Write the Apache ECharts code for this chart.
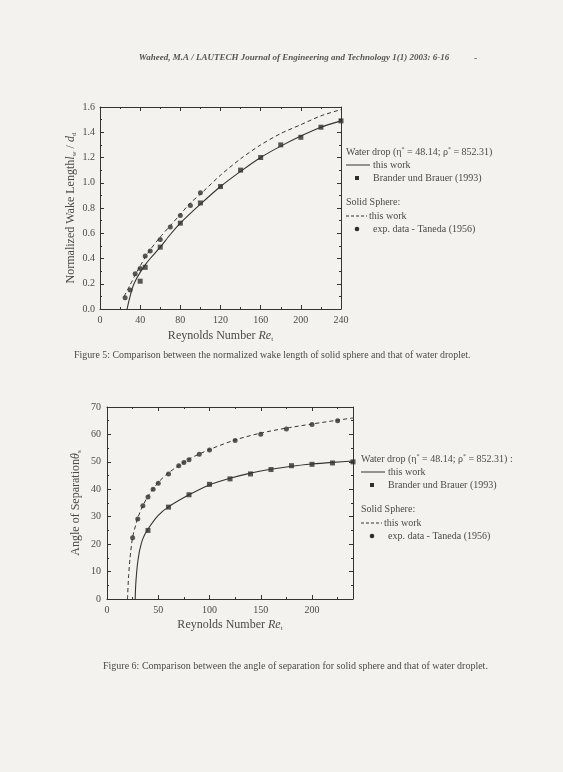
<!DOCTYPE html>
<html>
<head>
<meta charset="utf-8">
<script src="https://cdn.jsdelivr.net/npm/echarts@6/dist/echarts.min.js"></script>
<style>
	html, body { margin: 0; padding: 0; background: #f3f2ee; }
	#page { width: 563px; height: 772px; }
</style>
</head>
<body>
<div id="page"></div>
<script>
// Figure 5 - normalized wake length
const wakeReSquares = [40, 45, 60, 80, 100, 120, 140, 160, 180, 200, 220, 240];
const wakeSquares = [0.22, 0.33, 0.49, 0.68, 0.84, 0.97, 1.10, 1.20, 1.30, 1.36, 1.44, 1.49];
const wakeReCircles = [25, 30, 35, 40, 45, 50, 60, 70, 80, 90, 100];
const wakeCircles = [0.09, 0.15, 0.28, 0.32, 0.42, 0.46, 0.55, 0.65, 0.74, 0.82, 0.92];
const wakeReDropLine = [27, 29, 32, 35, 40, 45, 50, 60, 70, 80, 100, 120, 140, 160, 180, 200, 220, 240];
const wakeDropLine = [0, 0.07, 0.16, 0.22, 0.29, 0.35, 0.40, 0.49, 0.59, 0.68, 0.83, 0.97, 1.09, 1.20, 1.29, 1.37, 1.44, 1.49];
const wakeReSphereLine = [24, 30, 35, 40, 45, 50, 60, 70, 80, 90, 100, 120, 140, 160, 180, 200, 220, 240];
const wakeSphereLine = [0.10, 0.19, 0.27, 0.34, 0.41, 0.47, 0.57, 0.66, 0.75, 0.84, 0.91, 1.06, 1.19, 1.30, 1.39, 1.46, 1.53, 1.58];

// Figure 6 - angle of separation
const angleReSquares = [40, 60, 80, 100, 120, 140, 160, 180, 200, 220, 240];
const angleSquares = [25, 33.5, 38, 41.8, 43.8, 45.6, 47.2, 48.6, 49.1, 49.6, 50];
const angleReCircles = [25, 30, 35, 40, 45, 50, 60, 70, 75, 80, 90, 100, 125, 150, 175, 200, 225];
const angleCircles = [22.3, 29.2, 34, 37.2, 40, 42.2, 45.6, 48.6, 49.8, 50.8, 52.8, 54.3, 57.8, 60.1, 62, 63.6, 65];
const angleReDropLine = [27.5, 28, 29, 30, 32, 35, 40, 50, 60, 80, 100, 120, 140, 160, 180, 200, 220, 240];
const angleDropLine = [0, 5, 10, 13.5, 18, 22, 25.5, 30.5, 33.6, 38, 41.6, 44, 45.9, 47.3, 48.4, 49.2, 49.8, 50.3];
const angleReSphereLine = [20, 21, 22.5, 25, 30, 35, 40, 50, 60, 80, 100, 125, 150, 175, 200, 225, 240];
const angleSphereLine = [0, 8, 15, 22.5, 29.5, 34, 37.5, 42.5, 46, 51, 54.5, 58, 60.5, 62.3, 63.8, 65.2, 66];

const serif = '"Liberation Serif", "DejaVu Serif", serif';
const ink = '#333333';
const textInk = '#4a4a4a';

function pairs(xs, ys) {
	return xs.map((x, i) => [x, ys[i]]);
};

const nameRich = {
	a: { fontFamily: serif, fontSize: 12, color: textInk, lineHeight: 14 },
	i: { fontFamily: serif, fontSize: 12, fontStyle: 'italic', color: textInk, lineHeight: 14 },
	s: { fontFamily: serif, fontSize: 7, color: textInk, lineHeight: 8, verticalAlign: 'bottom' }
};

function valueAxis (grid, pos, min, max, step, opts) {
	let main = (pos === 'bottom' || pos === 'left');
	let axis = {
		type: 'value',
		gridIndex: grid,
		position: pos,
		min: min,
		max: max,
		interval: step,
		axisLine: { show: true, onZero: false, lineStyle: { color: ink, width: 1 } },
		axisTick: { show: true, inside: true, length: 4, lineStyle: { color: ink } },
		minorTick: { show: true, splitNumber: 2, length: 2, lineStyle: { color: ink } },
		splitLine: { show: false },
		axisLabel: { show: main, color: textInk, fontFamily: serif, fontSize: 10, margin: 6 }
	};
	return Object.assign(axis, opts || {});
};

const lineBase = { type: 'line', showSymbol: false, smooth: 0.25, silent: true };

const chart = echarts.init(document.getElementById('page'));

chart.setOption({
	backgroundColor: '#f3f2ee',
	animation: false,
	grid: [
		{ left: 100, top: 107, width: 241, height: 202 },
		{ left: 107, top: 407, width: 246, height: 192 }
	],
	xAxis: [
		valueAxis(0, 'bottom', 0, 240, 40, {
			name: '{a|Reynolds Number }{i|Re}{s|t}',
			nameLocation: 'middle', nameGap: 20,
			nameTextStyle: { rich: nameRich }
		}),
		valueAxis(0, 'top', 0, 240, 40),
		valueAxis(1, 'bottom', 0, 240, 50, {
			name: '{a|Reynolds Number }{i|Re}{s|t}',
			nameLocation: 'middle', nameGap: 19,
			nameTextStyle: { rich: nameRich },
			axisLabel: { color: textInk, fontFamily: serif, fontSize: 10, margin: 6, showMaxLabel: false }
		}),
		valueAxis(1, 'top', 0, 240, 50)
	],
	yAxis: [
		valueAxis(0, 'left', 0, 1.6, 0.2, {
			name: '{a|Normalized Wake Length}{i|l}{s|w}{a| / }{i|d}{s|d}',
			nameLocation: 'middle', nameGap: 22,
			nameTextStyle: { rich: nameRich },
			axisLabel: { color: textInk, fontFamily: serif, fontSize: 10, margin: 5,
				formatter: v => v.toFixed(1) }
		}),
		valueAxis(0, 'right', 0, 1.6, 0.2),
		valueAxis(1, 'left', 0, 70, 10, {
			name: '{a|Angle of Separation}{i|θ}{s|s}',
			nameLocation: 'middle', nameGap: 24,
			nameTextStyle: { rich: nameRich }
		}),
		valueAxis(1, 'right', 0, 70, 10)
	],
	series: [
		Object.assign({}, lineBase, {
			name: 'wake drop', xAxisIndex: 0, yAxisIndex: 0,
			data: pairs(wakeReDropLine, wakeDropLine),
			lineStyle: { color: ink, width: 1.1 }
		}),
		Object.assign({}, lineBase, {
			name: 'wake sphere', xAxisIndex: 0, yAxisIndex: 0,
			data: pairs(wakeReSphereLine, wakeSphereLine),
			lineStyle: { color: ink, width: 1, type: [4, 3] }
		}),
		{
			type: 'scatter', xAxisIndex: 0, yAxisIndex: 0, symbol: 'rect', symbolSize: 5,
			itemStyle: { color: '#2e2e2e' },
			data: pairs(wakeReSquares, wakeSquares)
		},
		{
			type: 'scatter', xAxisIndex: 0, yAxisIndex: 0, symbol: 'circle', symbolSize: 5,
			itemStyle: { color: '#2e2e2e' },
			data: pairs(wakeReCircles, wakeCircles)
		},
		Object.assign({}, lineBase, {
			name: 'angle drop', xAxisIndex: 2, yAxisIndex: 2,
			data: pairs(angleReDropLine, angleDropLine),
			lineStyle: { color: ink, width: 1.1 }
		}),
		Object.assign({}, lineBase, {
			name: 'angle sphere', xAxisIndex: 2, yAxisIndex: 2,
			data: pairs(angleReSphereLine, angleSphereLine),
			lineStyle: { color: ink, width: 1, type: [4, 3] }
		}),
		{
			type: 'scatter', xAxisIndex: 2, yAxisIndex: 2, symbol: 'rect', symbolSize: 5,
			itemStyle: { color: '#2e2e2e' },
			data: pairs(angleReSquares, angleSquares)
		},
		{
			type: 'scatter', xAxisIndex: 2, yAxisIndex: 2, symbol: 'circle', symbolSize: 5,
			itemStyle: { color: '#2e2e2e' },
			data: pairs(angleReCircles, angleCircles)
		}
	],
	graphic: buildTexts()
});

function legendBlock (dx, dy, tail) {
	let legRich = {
		t: { fontFamily: serif, fontSize: 10, color: textInk },
		g: { fontFamily: serif, fontSize: 10, color: textInk },
		p: { fontFamily: serif, fontSize: 6, color: textInk, verticalAlign: 'top', lineHeight: 12 }
	};
	let txt = (x, y, s) => ({
		type: 'text', x: x + dx, y: y + dy,
		style: { text: s, rich: legRich, fontFamily: serif, fontSize: 10, fill: textInk, verticalAlign: 'middle' }
	});
	return [
		txt(346, 152, '{t|Water drop (}{g|η}{p|*}{t| = 48.14; }{g|ρ}{p|*}{t| = 852.31)' + tail + '}'),
		{ type: 'line', shape: { x1: 346 + dx, y1: 165 + dy, x2: 370 + dx, y2: 165 + dy },
			style: { stroke: ink, lineWidth: 1 } },
		txt(373, 165, 'this work'),
		{ type: 'rect', shape: { x: 355 + dx, y: 176 + dy, width: 4, height: 4 },
			style: { fill: '#2e2e2e' } },
		txt(373, 178, 'Brander und Brauer (1993)'),
		txt(346, 202, 'Solid Sphere:'),
		{ type: 'line', shape: { x1: 346 + dx, y1: 216 + dy, x2: 367 + dx, y2: 216 + dy },
			style: { stroke: ink, lineWidth: 1, lineDash: [3, 2] } },
		txt(369, 216, 'this work'),
		{ type: 'circle', shape: { cx: 357 + dx, cy: 229 + dy, r: 2.3 },
			style: { fill: '#2e2e2e' } },
		txt(373, 229, 'exp. data - Taneda (1956)')
	];
};

function buildTexts () {
	let items = [
		{
			type: 'text', x: 294, y: 58,
			style: {
				text: 'Waheed, M.A / LAUTECH Journal of Engineering and Technology 1(1) 2003: 6-16',
				fontFamily: serif, fontSize: 9, fontStyle: 'italic', fontWeight: 'bold',
				fill: '#555', align: 'center', verticalAlign: 'middle'
			}
		},
		{
			type: 'text', x: 474, y: 58,
			style: { text: '-', fontFamily: serif, fontSize: 10, fill: '#666', verticalAlign: 'middle' }
		},
		{
			type: 'text', x: 74, y: 355,
			style: {
				text: 'Figure 5: Comparison between the normalized wake length of solid sphere and that of water droplet.',
				fontFamily: serif, fontSize: 9.9, fill: textInk, verticalAlign: 'middle'
			}
		},
		{
			type: 'text', x: 103, y: 666,
			style: {
				text: 'Figure 6: Comparison between the angle of separation for solid sphere and that of water droplet.',
				fontFamily: serif, fontSize: 10, fill: textInk, verticalAlign: 'middle'
			}
		}
	];
	return items.concat(legendBlock(0, 0, ''), legendBlock(15, 307, ' :'));
};
</script>
</body>
</html>
